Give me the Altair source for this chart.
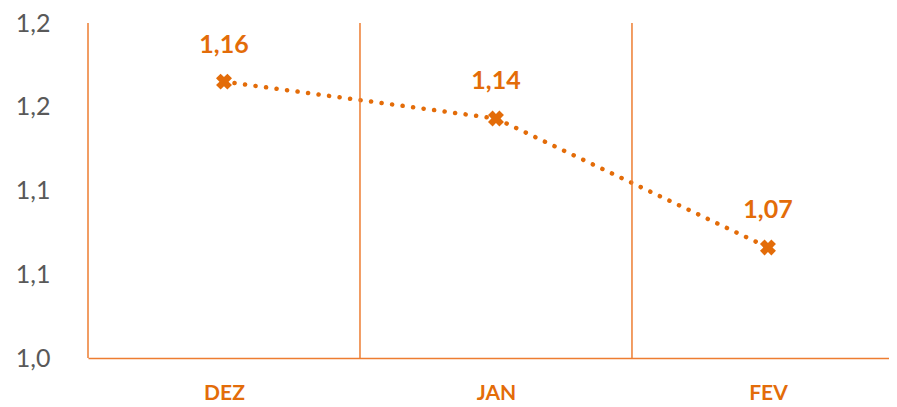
import altair as alt
import pandas as pd

months = ["DEZ", "JAN", "FEV"]
values = [1.165, 1.143, 1.066]
value_labels = ["1,16", "1,14", "1,07"]
y_ticks = [1.0, 1.05, 1.1, 1.15, 1.2]
y_tick_labels = ["1,0", "1,1", "1,1", "1,2", "1,2"]

positions = [i + 0.5 for i in range(len(months))]
boundaries = [i for i in range(len(months))]

df = pd.DataFrame({"pos": positions, "valor": values, "rotulo": value_labels})
grid_df = pd.DataFrame({"b": boundaries})

ORANGE = "#E36C09"
GRID = "#ED7D31"

y_label_expr = "[" + ",".join(f"'{s}'" for s in y_tick_labels) + "][indexof([" + ",".join(str(v) for v in y_ticks) + "], datum.value)]"
x_label_expr = "[" + ",".join(f"'{s}'" for s in months) + "][floor(datum.value)]"

x_scale = alt.Scale(domain=[0, 2.945], nice=False, zero=False)
y_scale = alt.Scale(domain=[1.0, 1.2], nice=False, zero=False)

x = alt.X("pos:Q", title=None, scale=x_scale,
          axis=alt.Axis(values=positions, labelExpr=x_label_expr, labelAngle=0,
                        labelFont="Lato", labelFontSize=21, labelFontWeight="bold",
                        labelColor=ORANGE, labelPadding=24, ticks=False,
                        domainColor=GRID, domainWidth=1.7, grid=False))
y = alt.Y("valor:Q", title=None, scale=y_scale,
          axis=alt.Axis(values=y_ticks, labelExpr=y_label_expr, grid=False, domain=False, ticks=False,
                        labelFont="Lato", labelFontSize=25, labelColor="#595959", labelPadding=38))

base = alt.Chart(df).encode(x=x, y=y)

grid = alt.Chart(grid_df).mark_rule(color=GRID, strokeWidth=1.5).encode(
    x=alt.X("b:Q", scale=x_scale)
)

line = base.mark_line(color=ORANGE, strokeWidth=4.5, strokeDash=[0.1, 10.5], strokeCap="round")
pts = base.mark_point(shape="cross", angle=45, filled=True, size=260, color=ORANGE, opacity=1)
txt = base.mark_text(dy=-37, font="Lato", fontSize=25, fontWeight="bold", color=ORANGE).encode(text="rotulo:N")

chart = (line + grid + pts + txt).properties(
    width=801, height=335,
    autosize=alt.AutoSizeParams(type="none"),
    padding={"left": 80, "top": 15, "right": 0, "bottom": 48},
).configure_view(stroke=None)

chart.save("out.html", embed_options={"renderer": "svg", "actions": False})
